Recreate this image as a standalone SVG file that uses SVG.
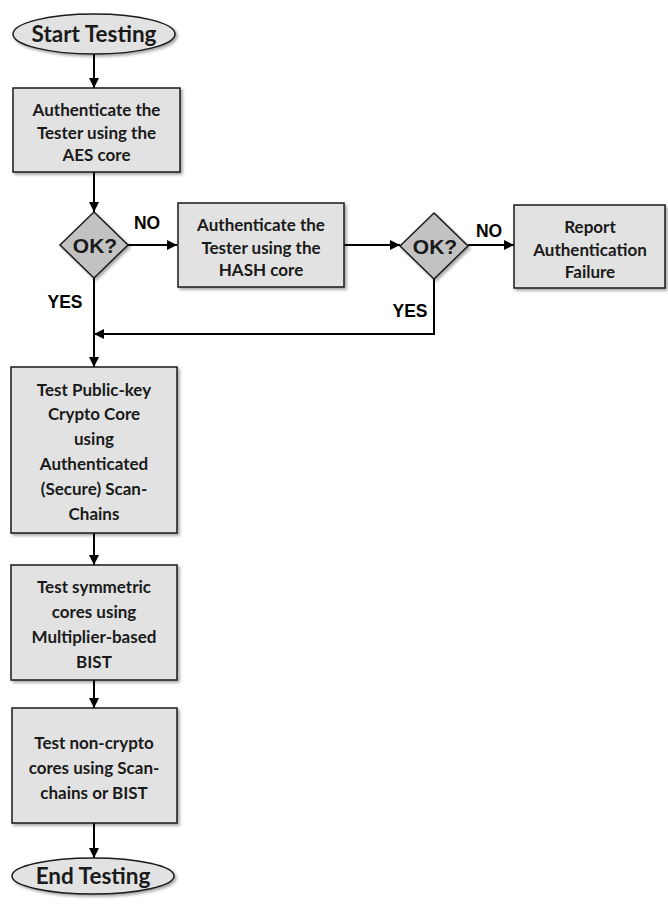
<svg xmlns="http://www.w3.org/2000/svg" width="668" height="905" viewBox="0 0 668 905">
<style>
.box{fill:#e2e2e2;stroke:#1a1a1a;stroke-width:1.5}
.dia{fill:#c2c2c2;stroke:#1a1a1a;stroke-width:1.5}
.t{font-family:Lato,"Open Sans",sans-serif;font-weight:bold;font-size:17px;fill:#1a1a1a;text-anchor:middle}
.tb{font-family:Lato,"Open Sans",sans-serif;font-weight:bold;font-size:22.5px;fill:#1a1a1a;text-anchor:middle}
.ok{font-family:"Liberation Sans",Arial,sans-serif;font-weight:bold;font-size:21px;fill:#1a1a1a;text-anchor:middle}
.lb{font-family:"Liberation Sans",Arial,sans-serif;font-weight:bold;font-size:17.5px;fill:#000;text-anchor:middle}
.c{fill:none;stroke:#000;stroke-width:2}
</style>
<defs>
<filter id="sh" x="-10%" y="-10%" width="130%" height="130%">
<feDropShadow dx="2" dy="2" stdDeviation="1.5" flood-color="#000" flood-opacity="0.35"/>
</filter>
<marker id="ah" viewBox="0 0 10 10" refX="10" refY="5" markerWidth="10" markerHeight="10" markerUnits="userSpaceOnUse" orient="auto">
<path d="M0,0 L10,5 L0,10 z" fill="#000"/>
</marker>
</defs>
<g id="connectors">
<line class="c" x1="94" y1="54" x2="94" y2="88" marker-end="url(#ah)"/>
<line class="c" x1="94" y1="172" x2="94" y2="212" marker-end="url(#ah)"/>
<line class="c" x1="127" y1="245" x2="177" y2="245" marker-end="url(#ah)"/>
<line class="c" x1="344" y1="245" x2="400" y2="245" marker-end="url(#ah)"/>
<line class="c" x1="468" y1="245" x2="514" y2="245" marker-end="url(#ah)"/>
<polyline class="c" points="434,279 434,334 94,334" marker-end="url(#ah)"/>
<line class="c" x1="94" y1="278" x2="94" y2="367" marker-end="url(#ah)"/>
<line class="c" x1="94" y1="533" x2="94" y2="565" marker-end="url(#ah)"/>
<line class="c" x1="94" y1="680" x2="94" y2="708" marker-end="url(#ah)"/>
<line class="c" x1="94" y1="823" x2="94" y2="858" marker-end="url(#ah)"/>
<text class="lb" x="147" y="229">NO</text>
<text class="lb" x="65" y="308">YES</text>
<text class="lb" x="489" y="237">NO</text>
<text class="lb" x="410" y="317">YES</text>
</g>
<g id="start">
<ellipse cx="94" cy="34" rx="81" ry="20" class="box" filter="url(#sh)"/>
<text class="tb" x="94" y="42">Start Testing</text>
</g>
<g id="auth-aes">
<rect x="13" y="88" width="167" height="84" class="box" filter="url(#sh)"/>
<text class="t" x="96.5" y="116">Authenticate the</text>
<text class="t" x="96.5" y="139">Tester using the</text>
<text class="t" x="96.5" y="161">AES core</text>
</g>
<g id="ok1">
<polygon points="94,212 128,245 94,278 60,245" class="dia" filter="url(#sh)"/>
<text class="ok" x="95" y="253">OK?</text>
</g>
<g id="auth-hash">
<rect x="178" y="203" width="166" height="84" class="box" filter="url(#sh)"/>
<text class="t" x="261" y="231">Authenticate the</text>
<text class="t" x="261" y="254">Tester using the</text>
<text class="t" x="261" y="276">HASH core</text>
</g>
<g id="ok2">
<polygon points="434,213 468,246 434,279 400,246" class="dia" filter="url(#sh)"/>
<text class="ok" x="435" y="254">OK?</text>
</g>
<g id="report">
<rect x="514" y="205" width="151" height="83" class="box" filter="url(#sh)"/>
<text class="t" x="590" y="233">Report</text>
<text class="t" x="590" y="256">Authentication</text>
<text class="t" x="590" y="278">Failure</text>
</g>
<g id="test-pk">
<rect x="11" y="367" width="166" height="166" class="box" filter="url(#sh)"/>
<text class="t" x="94" y="396">Test Public-key</text>
<text class="t" x="94" y="420">Crypto Core</text>
<text class="t" x="94" y="445">using</text>
<text class="t" x="94" y="470">Authenticated</text>
<text class="t" x="94" y="495">(Secure) Scan-</text>
<text class="t" x="94" y="520">Chains</text>
</g>
<g id="test-sym">
<rect x="11" y="565" width="166" height="115" class="box" filter="url(#sh)"/>
<text class="t" x="94" y="593">Test symmetric</text>
<text class="t" x="94" y="618">cores using</text>
<text class="t" x="94" y="643">Multiplier-based</text>
<text class="t" x="94" y="668">BIST</text>
</g>
<g id="test-noncrypto">
<rect x="12" y="708" width="165" height="115" class="box" filter="url(#sh)"/>
<text class="t" x="94" y="749">Test non-crypto</text>
<text class="t" x="94" y="774">cores using Scan-</text>
<text class="t" x="94" y="799">chains or BIST</text>
</g>
<g id="end">
<ellipse cx="93" cy="876" rx="81" ry="18" class="box" filter="url(#sh)"/>
<text class="tb" x="93" y="884">End Testing</text>
</g>
</svg>
